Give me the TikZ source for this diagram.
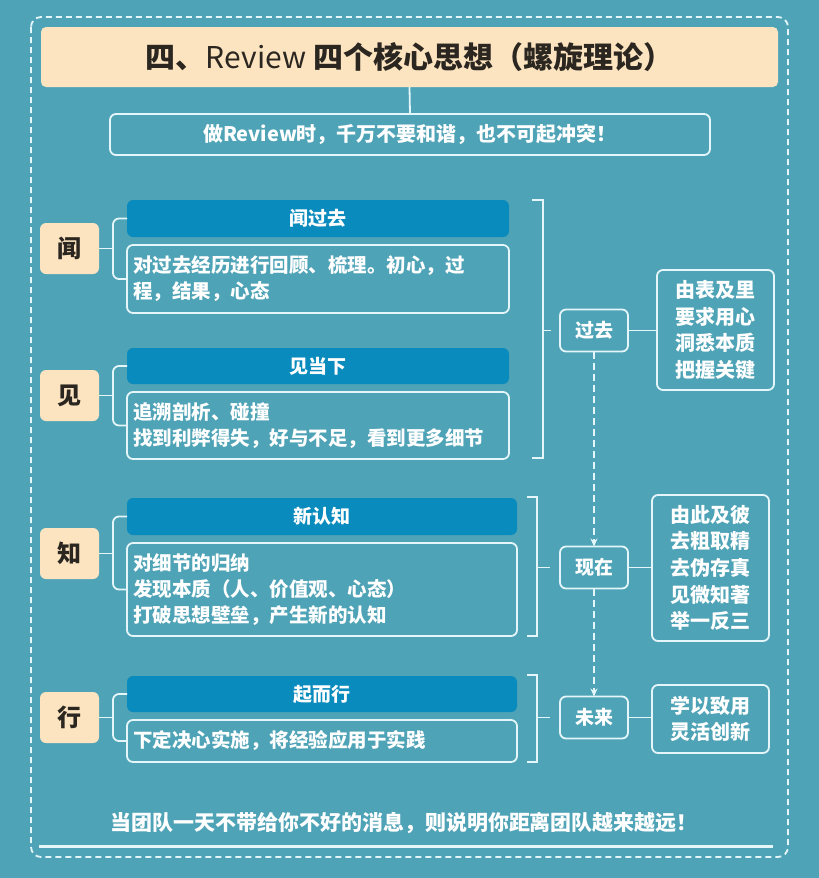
\documentclass[tikz,border=0pt]{standalone}
\usepackage{fontspec}
\setmainfont{Noto Sans CJK SC}
\usetikzlibrary{arrows.meta}
\definecolor{bg}{HTML}{4FA3B6}
\definecolor{hdr}{HTML}{0A8BBE}
\definecolor{peach}{HTML}{FCE4C0}
\definecolor{ln}{HTML}{E4F6FA}
\definecolor{ink}{HTML}{2B2620}
\begin{document}
\begin{tikzpicture}[x=1pt,y=-1pt,
  box/.style={draw=ln, line width=1.8pt, rounded corners=6pt, inner sep=0pt, outer sep=0pt},
  hdrbox/.style={fill=hdr, rounded corners=6pt, text=white, inner sep=0pt, outer sep=0pt,
    font=\bfseries\fontsize{19}{22}\selectfont},
  lbl/.style={fill=peach, rounded corners=6pt, text=ink, inner sep=0pt, outer sep=0pt,
    minimum width=59pt, minimum height=51pt, font=\bfseries\fontsize{24}{28}\selectfont},
  bodybox/.style={box, text=white, align=left, inner xsep=6pt,
    font=\bfseries\fontsize{19.5}{26}\selectfont},
  timebox/.style={box, minimum width=68pt, minimum height=42pt, text=white,
    font=\bfseries\fontsize{19}{22}\selectfont},
  rbox/.style={box, minimum width=117pt, text=white, align=center,
    font=\bfseries\fontsize{20}{26.7}\selectfont},
  wire/.style={draw=ln, line width=1.8pt},
  flow/.style={draw=ln, line width=1.8pt, dash pattern=on 7pt off 4pt, -{Stealth[length=8pt,width=7pt]}}
]
\useasboundingbox[fill=bg] (0,0) rectangle (819,878);
% outer dashed frame
\draw[ln, line width=1.8pt, dash pattern=on 6pt off 4pt, rounded corners=10pt] (31,17) rectangle (788,857);
% title
\node[fill=peach, rounded corners=5pt, minimum width=737pt, minimum height=60pt, inner sep=0pt, text=ink,
  font=\bfseries\fontsize{30}{34}\selectfont] (title) at (409.5,57) {四、{\mdseries Review} 四个核心思想（螺旋理论）};
\node[box, minimum width=600pt, minimum height=41pt, text=white, font=\bfseries\fontsize{20}{24}\selectfont]
  (sub) at (410,134.5) {做Review时，千万不要和谐，也不可起冲突！};
\draw[wire] (title.south) -- (sub.north);
% left labels
\node[lbl] (L1) at (69.5,248.5) {闻};
\node[lbl] (L2) at (69.5,395.5) {见};
\node[lbl] (L3) at (69.5,553.5) {知};
\node[lbl] (L4) at (69.5,717.5) {行};
% headers
\node[hdrbox, minimum width=382pt, minimum height=37pt] (H1) at (318,218.5) {闻过去};
\node[hdrbox, minimum width=382pt, minimum height=36pt] (H2) at (318,366) {见当下};
\node[hdrbox, minimum width=390pt, minimum height=37pt] (H3) at (322,516.5) {新认知};
\node[hdrbox, minimum width=390pt, minimum height=36pt] (H4) at (322,694) {起而行};
% bodies
\node[bodybox, text width=370pt, minimum height=68pt] (B1) at (318,279) {对过去经历进行回顾、梳理。初心，过\\程，结果，心态};
\node[bodybox, text width=370pt, minimum height=67pt] (B2) at (318,425.5) {追溯剖析、碰撞\\找到利弊得失，好与不足，看到更多细节};
\node[bodybox, text width=378pt, minimum height=93pt] (B3) at (322,589.5) {对细节的归纳\\发现本质（人、价值观、心态）\\打破思想壁垒，产生新的认知};
\node[bodybox, text width=378pt, minimum height=42pt] (B4) at (322,741) {下定决心实施，将经验应用于实践};
% left brackets
\foreach \h/\b/\l in {H1/B1/L1, H2/B2/L2, H3/B3/L3, H4/B4/L4}{
  \draw[wire, rounded corners=6pt] (\h.west) -| ([xshift=-14pt]\b.west) -- (\b.west);
  \draw[wire] (\l.east) -- ++(14,0);
}
% time boxes
\node[timebox] (T1) at (594,330.5) {过去};
\node[timebox] (T2) at (594,567.5) {现在};
\node[timebox] (T3) at (594,717.5) {未来};
% right boxes
\node[rbox, minimum height=120pt] (R1) at (715.5,330) {由表及里\\要求用心\\洞悉本质\\把握关键};
\node[rbox, minimum height=146pt] (R2) at (710.5,568) {由此及彼\\去粗取精\\去伪存真\\见微知著\\举一反三};
\node[rbox, minimum height=68pt] (R3) at (710.5,719) {学以致用\\灵活创新};
% right brackets
\draw[wire] (532,200) -- (543,200) -- (543,458) -- (532,458);
\coordinate (k1) at (543,330.5);
\draw[wire, shorten >=9pt] (k1) -- (T1.west);
\draw[wire] (527,497) -- (537,497) -- (537,636) -- (527,636);
\coordinate (k2) at (537,567.5);
\draw[wire, shorten >=10pt] (k2) -- (T2.west);
\draw[wire] (527,675) -- (537,675) -- (537,762) -- (527,762);
\coordinate (k3) at (537,717.5);
\draw[wire, shorten >=10pt] (k3) -- (T3.west);
% time to right boxes
\draw[wire] (T1.east) -- (T1.east -| R1.west);
\draw[wire] (T2.east) -- (T2.east -| R2.west);
\draw[wire] (T3.east) -- (T3.east -| R3.west);
% dashed flow
\draw[flow] (T1.south) -- (T2.north);
\draw[flow] (T2.south) -- (T3.north);
% footer
\node[text=white, font=\bfseries\fontsize{21}{24}\selectfont] (foot) at (404,823) {当团队一天不带给你不好的消息，则说明你距离团队越来越远！};
\draw[ln, line width=3pt] (39,846) -- (773,846);
\end{tikzpicture}
\end{document}
